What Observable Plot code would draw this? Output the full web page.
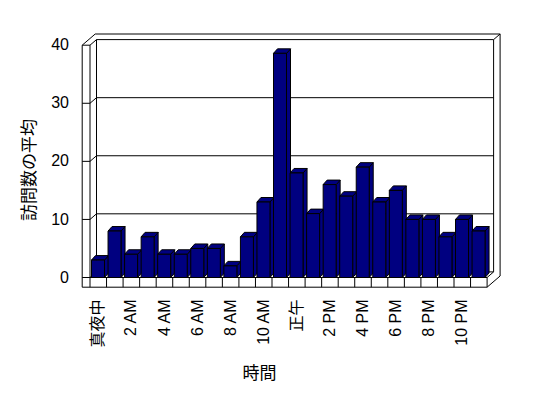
<!DOCTYPE html>
<html><head><meta charset="utf-8">
<script src="https://cdn.jsdelivr.net/npm/d3@7"></script>
<script src="https://cdn.jsdelivr.net/npm/@observablehq/plot@0.6"></script>
<style>html,body{margin:0;padding:0;background:#fff;}</style>
</head><body><div id="chart"></div>
<script>
// ---- data ----
const hours = ["真夜中","1 AM","2 AM","3 AM","4 AM","5 AM","6 AM","7 AM","8 AM","9 AM","10 AM","11 AM",
               "正午","1 PM","2 PM","3 PM","4 PM","5 PM","6 PM","7 PM","8 PM","9 PM","10 PM","11 PM"];
const visits = [3,8,4,7,4,4,5,5,2,7,13,38.6,18,11,16,14,19,13,15,10,10,7,10,8];
const yTicks = [0,10,20,30,40];
const labelStep = 2;
const yTitle = "訪問数の平均";
const xTitle = "時間";

// ---- layout ----
const W = 548, H = 398, ML = 89.5, MR = 61.4, MT = 44.7, MB = 121;
const yMax = yTicks[yTicks.length - 1];
const n = hours.length;
const UX = (W - ML - MR) / n, UY = (H - MT - MB) / yMax;
const px = p => p / UX, py = p => p / UY;
const xl = -0.5, xr = n - 0.5;
const DX = px(6.5), DY = py(5.6);     // wall depth
const T = px(7.8);                    // left wall thickness
const FB = -py(9.7);                  // floor bottom
const NAVY = "#000080";

// ---- frame segments ----
const segs = [];
const S = (x1, y1, x2, y2) => segs.push({x1, y1, x2, y2});
// back wall inner face + gridlines
S(xl + DX, DY, xl + DX, yMax + DY);
S(xr + DX, DY, xr + DX, yMax + DY);
S(xl + DX, DY, xr + DX, DY);
for (const v of yTicks) if (v > 0) S(xl + DX, v + DY, xr + DX, v + DY);
// left wall inner diagonals
for (const v of yTicks) S(xl, v, xl + DX, v + DY);
// left wall slab front face + ticks
S(xl - T, FB, xl - T, yMax);
S(xl - T, yMax, xl, yMax);
S(xl, FB, xl, yMax);
for (const v of yTicks) if (v < yMax) S(xl - T, v, xl, v);
// top outer edges
S(xl - T, yMax, xl - T + 2 * DX, yMax + 2 * DY);
S(xl - T + 2 * DX, yMax + 2 * DY, xr + 2 * DX, yMax + 2 * DY);
S(xr + DX, yMax + DY, xr + 2 * DX, yMax + 2 * DY);
S(xr + 2 * DX, yMax + 2 * DY, xr + 2 * DX, FB + 2 * DY);
S(xr, FB, xr + 2 * DX, FB + 2 * DY);
S(xr, 0, xr + DX, DY);

// floor front face
const floorSegs = [];
const F = (x1, y1, x2, y2) => floorSegs.push({x1, y1, x2, y2});
F(xl - T, FB, xr, FB);
F(xl, 0, xr, 0);
F(xr, FB, xr, 0);
for (let k = 1; k < n; k++) F(k - 0.5, FB, k - 0.5, 0);

// ---- bar polygons ----
const poly = [];
visits.forEach((v, i) => {
  const x1 = i - 0.5 + px(1.5), x2 = x1 + px(13), bx = px(4), by = py(4.5);
  const add = (id, pts) => pts.forEach(([x, y]) => poly.push({id, x, y}));
  add(i + "s", [[x2, 0], [x2 + bx, by], [x2 + bx, v + by], [x2, v], [x2, 0]]);
  add(i + "t", [[x1, v], [x1 + bx, v + by], [x2 + bx, v + by], [x2, v], [x1, v]]);
  add(i + "f", [[x1, 0], [x1, v], [x2, v], [x2, 0], [x1, 0]]);
});

const labeled = d3.range(0, n, labelStep);

const chart = Plot.plot({
  width: W, height: H,
  marginLeft: ML, marginRight: MR, marginTop: MT, marginBottom: MB,
  x: {type: "linear", domain: [xl, xr], axis: null},
  y: {type: "linear", domain: [0, yMax], axis: null},
  style: {fontFamily: "'Liberation Sans', 'Noto Sans CJK JP', sans-serif", fontSize: "16px", background: "#fff", color: "#000", overflow: "visible"},
  marks: [
    Plot.link(segs, {x1: "x1", y1: "y1", x2: "x2", y2: "y2", stroke: "#000", strokeWidth: 1}),
    Plot.line(poly, {x: "x", y: "y", z: "id", fill: NAVY, stroke: "#000", strokeWidth: 1, strokeLinejoin: "miter", strokeLinecap: "butt"}),
    Plot.link(floorSegs, {x1: "x1", y1: "y1", x2: "x2", y2: "y2", stroke: "#000", strokeWidth: 1}),
    Plot.text(yTicks, {x: () => xl, y: d => d, text: d => String(d), dx: -21, textAnchor: "end", fontSize: 16, fill: "#000"}),
    Plot.text(labeled, {x: d => d, y: () => 0, text: d => hours[d], dy: 22, rotate: -90, textAnchor: "end", fontSize: 16, fill: "#000"}),
    Plot.text([yTitle], {frameAnchor: "left", text: d => d, dx: -60.5, dy: 8.6, rotate: -90, textAnchor: "middle", fontSize: 17, fill: "#000"}),
    Plot.text([xTitle], {frameAnchor: "bottom", text: d => d, dx: -29, dy: 101, textAnchor: "middle", fontSize: 17, fill: "#000"})
  ]
});
document.getElementById("chart").appendChild(chart);
</script>
</body></html>
